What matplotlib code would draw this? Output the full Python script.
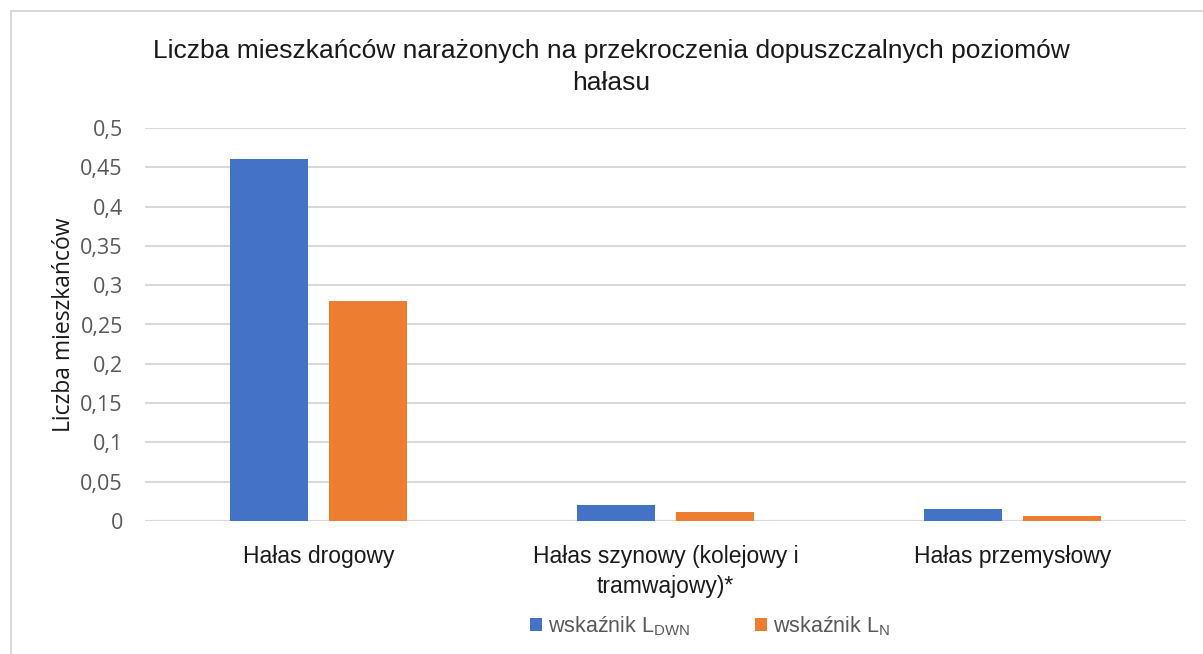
import matplotlib
matplotlib.use("Agg")
import matplotlib.pyplot as plt
from matplotlib.patches import Rectangle
from matplotlib.ticker import FuncFormatter, MultipleLocator
import numpy as np

plt.rcParams['mathtext.fontset'] = 'custom'
plt.rcParams['mathtext.rm'] = 'Liberation Sans'

categories = ['Hałas drogowy', 'Hałas szynowy (kolejowy i\ntramwajowy)*', 'Hałas przemysłowy']
ldwn = [0.46, 0.02, 0.015]
ln = [0.28, 0.012, 0.006]
series_labels = ['wskaźnik L$_{\\mathregular{DWN}}$', 'wskaźnik L$_{\\mathregular{N}}$']

blue = '#4472c4'
orange = '#ed7d31'
grid_col = '#d9d9d9'
tick_col = '#595959'

fig = plt.figure(figsize=(12.03, 6.54), dpi=100)
fig.patches.append(Rectangle((11 / 1203, -0.1), 1.2, 1 - 11 / 654 + 0.1,
                             transform=fig.transFigure, fill=False,
                             edgecolor='#d9d9d9', linewidth=1.5))

ax = fig.add_axes([145 / 1203, 1 - 521 / 654, 1041 / 1203, 393 / 654])
x = np.arange(len(categories))
w = 0.225
off = 0.1427
ax.bar(x - off, ldwn, w, color=blue, label=series_labels[0], zorder=3)
ax.bar(x + off, ln, w, color=orange, label=series_labels[1], zorder=3)

ax.set_xlim(-0.5, 2.5)
ax.set_ylim(0, 0.5)
ax.yaxis.set_major_locator(MultipleLocator(0.05))
ax.yaxis.set_major_formatter(FuncFormatter(lambda v, p: ('%g' % round(v, 2)).replace('.', ',')))
ax.grid(axis='y', color=grid_col, linewidth=1.5, zorder=0)
for s in ax.spines.values():
    s.set_visible(False)
ax.axhline(0, color=grid_col, linewidth=1.5, zorder=2)
ax.tick_params(axis='both', length=0)
ax.tick_params(axis='y', labelsize=15.5, labelcolor=tick_col, pad=16)
for t in ax.get_yticklabels():
    t.set_family('Open Sans')
ax.set_xticks(x)
ax.set_xticklabels(categories, fontsize=16.5, family='Liberation Sans', color='#1a1a1a',
                   linespacing=1.4)
ax.tick_params(axis='x', pad=17)

ax.set_ylabel('Liczba mieszkańców', fontsize=16.5, family='Open Sans', color='#1a1a1a',
              labelpad=3)

fig.text(611 / 1203, 1 - 67 / 654, 'Liczba mieszkańców narażonych na przekroczenia dopuszczalnych poziomów\nhałasu',
         ha='center', va='center', fontsize=19, family='Liberation Sans', color='#1a1a1a',
         linespacing=1.42)

leg = ax.legend(loc='center', bbox_to_anchor=(0.543, -0.268), ncol=2, frameon=False,
                prop={'family': 'Liberation Sans', 'size': 15.5}, handlelength=0.55,
                handleheight=0.55, handletextpad=0.3, columnspacing=3.0)
for t in leg.get_texts():
    t.set_color(tick_col)

fig.savefig('out.png', dpi=100)
